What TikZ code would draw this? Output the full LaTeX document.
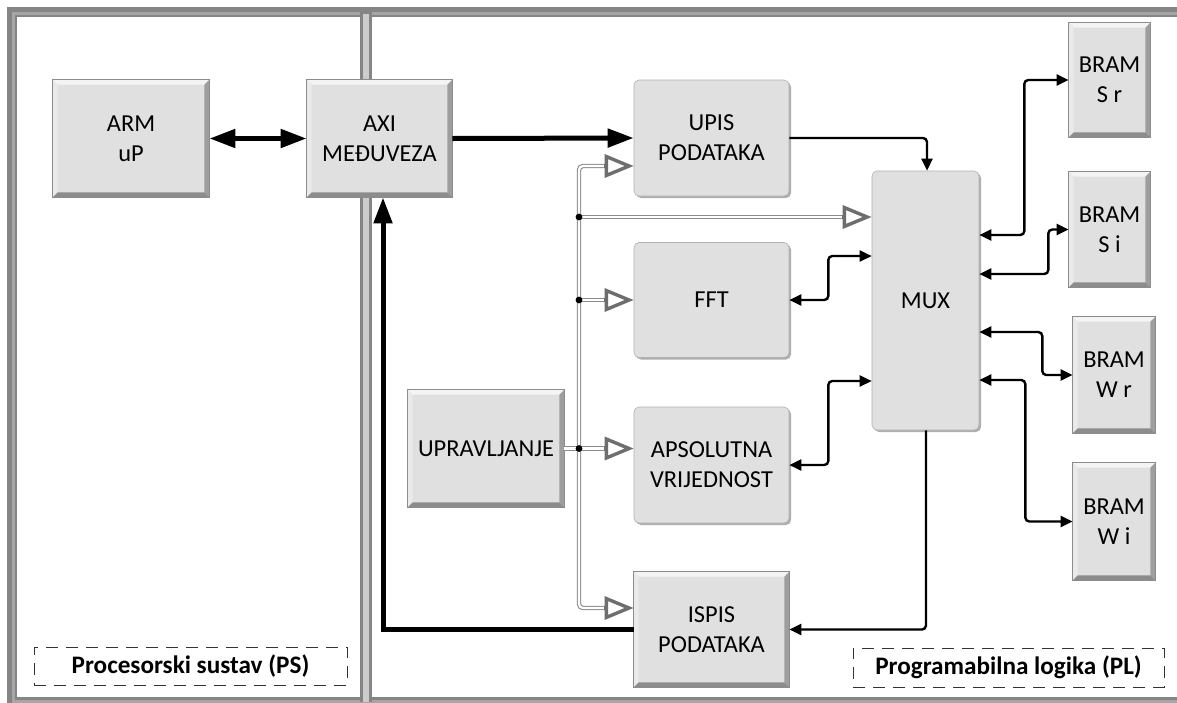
\documentclass[tikz,border=0pt]{standalone}
\usepackage{fontspec}
\setmainfont{Carlito}
\usetikzlibrary{arrows.meta,shadows,calc}
\definecolor{boxfill}{HTML}{E0E0E0}
\definecolor{bevtopc}{HTML}{F4F4F4}
\definecolor{bevleftc}{HTML}{EAEAEA}
\definecolor{bevrightc}{HTML}{9E9E9E}
\definecolor{bevbotc}{HTML}{8C8C8C}
\definecolor{framec}{HTML}{858585}
\definecolor{framelt}{HTML}{A6A6A6}
\definecolor{ctrlc}{HTML}{6E6E6E}
\def\bevw{2.5pt}
\newcommand\bevelit[1]{%
 \fill[bevtopc] (#1.north west) -- (#1.north east) -- ([xshift=-\bevw,yshift=-\bevw]#1.north east) -- ([xshift=\bevw,yshift=-\bevw]#1.north west) -- cycle;
 \fill[bevleftc] (#1.north west) -- ([xshift=\bevw,yshift=-\bevw]#1.north west) -- ([xshift=\bevw,yshift=\bevw]#1.south west) -- (#1.south west) -- cycle;
 \fill[bevrightc] (#1.north east) -- (#1.south east) -- ([xshift=-\bevw,yshift=\bevw]#1.south east) -- ([xshift=-\bevw,yshift=-\bevw]#1.north east) -- cycle;
 \fill[bevbotc] (#1.south west) -- ([xshift=\bevw,yshift=\bevw]#1.south west) -- ([xshift=-\bevw,yshift=\bevw]#1.south east) -- (#1.south east) -- cycle;
 \draw[black!45, line width=0.3pt] (#1.north west) rectangle (#1.south east);
}
\begin{document}
\begin{tikzpicture}[x=0.5pt,y=-0.5pt,
  font=\fontsize{12.2}{15}\selectfont,
  bevbox/.style={fill=boxfill, draw=none, align=center, inner sep=0pt},
  rbox/.style={fill=boxfill, draw=black!30, line width=0.3pt, rounded corners=2.5pt, align=center, inner sep=0pt,
     drop shadow={shadow xshift=1pt, shadow yshift=-1pt, opacity=0.45, fill=black!70}},
  thickarr/.style={line width=2.5pt, -{Triangle[length=13pt,width=9pt]}},
  thickbi/.style={line width=2.5pt, {Triangle[length=13pt,width=9pt]}-{Triangle[length=13pt,width=9pt]}},
  thinarr/.style={line width=1.2pt, rounded corners=2pt, -{Triangle[length=6pt,width=5.5pt]}},
  thinbi/.style={line width=1.2pt, rounded corners=2pt, {Triangle[length=6pt,width=5.5pt]}-{Triangle[length=6pt,width=5.5pt]}},
  dbl/.style={draw=ctrlc!80, line width=0.55pt, double=white, double distance=1.1pt, rounded corners=2pt},
  opentip/.style={draw=ctrlc, line width=1.7pt, -{Triangle[open,length=14.5pt,width=11.5pt]}},
  lbl/.style={draw=black!80, line width=0.5pt, dash pattern=on 6pt off 4pt, inner sep=0pt, font=\fontsize{12.6}{15}\selectfont\bfseries}
]
\useasboundingbox (0,0) rectangle (1177,702);
\fill[white] (0,0) rectangle (1177,702);
\clip (0,0) rectangle (1177,702);

% frame
\draw[framec, line width=5pt] (12,12) rectangle (1200,702);
\draw[framelt, line width=1.5pt] (13,13) rectangle (1200,701);
\draw[framec, line width=6pt] (366,12) -- (366,702);
\draw[black!20, line width=3pt] (366,14) -- (366,702);

% boxes
\node[bevbox, minimum width=78pt, minimum height=58.5pt] (arm) at (131,138.5) {ARM\\uP};
\node[bevbox, minimum width=72.5pt, minimum height=58.5pt] (axi) at (379.5,138.5) {AXI\\MEĐUVEZA};
\node[rbox, minimum width=77.5pt, minimum height=58pt] (upis) at (711.5,138) {UPIS\\PODATAKA};
\node[rbox, minimum width=77.5pt, minimum height=57.5pt] (fft) at (711.5,300) {FFT};
\node[rbox, minimum width=77.5pt, minimum height=58pt] (aps) at (711.5,465) {APSOLUTNA\\VRIJEDNOST};
\node[bevbox, minimum width=77.5pt, minimum height=57.5pt] (ispis) at (711.5,629.5) {ISPIS\\PODATAKA};
\node[bevbox, minimum width=78pt, minimum height=58.5pt] (upr) at (486,448.5) {UPRAVLJANJE};
\node[rbox, minimum width=53.5pt, minimum height=129.5pt] (mux) at (925.5,300.5) {MUX};
\node[bevbox, minimum width=40.5pt, minimum height=57pt] (bsr) at (1109.5,80) {BRAM\\S r};
\node[bevbox, minimum width=40.5pt, minimum height=57.5pt] (bsi) at (1109.5,229.5) {BRAM\\S i};
\node[bevbox, minimum width=41pt, minimum height=58pt] (bwr) at (1114,375) {BRAM\\W r};
\node[bevbox, minimum width=41pt, minimum height=58.5pt] (bwi) at (1114,521.5) {BRAM\\W i};
\bevelit{arm}\bevelit{axi}\bevelit{ispis}\bevelit{upr}
\bevelit{bsr}\bevelit{bsi}\bevelit{bwr}\bevelit{bwi}

% labels
\node[lbl, minimum width=156.5pt, minimum height=19pt] (ps) at (190.5,666) {Procesorski sustav (PS)};
\node[lbl, minimum width=155.5pt, minimum height=19.5pt] (pl) at (1008.5,667.5) {Programabilna logika (PL)};

% thick connectors
\draw[thickbi] (arm.east) -- (axi.west);
\draw[thickarr] (axi.east) -- (upis.west);
\draw[thickarr] (ispis.west) -| ([xshift=1.75pt]axi.south);

% thin connectors
\draw[thinarr] (upis.east) -| ([xshift=0.75pt]mux.north);
\draw[thinarr] ([xshift=0.25pt]mux.south) |- (ispis.east);
\draw[thinbi] (fft.east) -- ++(39,0) |- ([yshift=22.25pt]mux.west);
\draw[thinbi] (aps.east) -- ++(39,0) |- ([yshift=-40.25pt]mux.west);
\draw[thinbi] ([yshift=32.75pt]mux.east) -- ++(45,0) |- (bsr.west);
\draw[thinbi] ([yshift=13.25pt]mux.east) -- ++(69,0) |- (bsi.west);
\draw[thinbi] ([yshift=-15.75pt]mux.east) -- ++(63,0) |- (bwr.west);
\draw[thinbi] ([yshift=-39.75pt]mux.east) -- ++(46,0) |- (bwi.west);

% control bus
\coordinate (bus) at (579,448.5);
\coordinate (j1) at (579,217);
\coordinate (j2) at (579,300);
\draw[dbl] (upr.east) -- ([xshift=-13pt]aps.west |- bus);
\draw[dbl] ([xshift=-13pt,yshift=-14pt]upis.west) -| (bus) |- ([xshift=-13pt,yshift=10.75pt]ispis.west);
\draw[dbl] (j1) -- ([xshift=-13pt,yshift=41.75pt]mux.west);
\draw[dbl] (j2) -- ([xshift=-13pt]fft.west);
\draw[opentip] ([xshift=-15pt]aps.west |- bus) -- (aps.west |- bus);
\draw[opentip] ([xshift=-15pt,yshift=-14pt]upis.west) -- ([yshift=-14pt]upis.west);
\draw[opentip] ([xshift=-15pt,yshift=10.75pt]ispis.west) -- ([yshift=10.75pt]ispis.west);
\draw[opentip] ([xshift=-15pt,yshift=41.75pt]mux.west) -- ([yshift=41.75pt]mux.west);
\draw[opentip] ([xshift=-15pt]fft.west) -- (fft.west);
\fill (bus) circle (1.7pt);
\fill (j1) circle (1.7pt);
\fill (j2) circle (1.7pt);
\end{tikzpicture}
\end{document}
